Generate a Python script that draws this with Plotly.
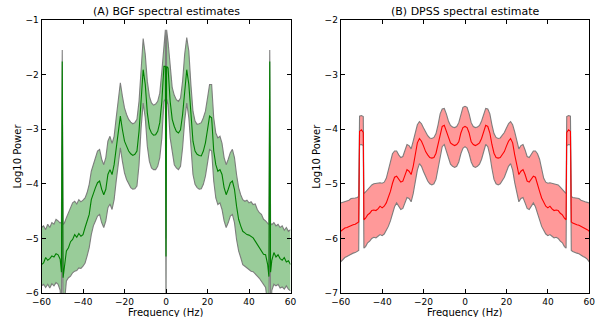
import plotly.graph_objects as go

# ---------------- data: (A) BGF spectral estimates ----------------
bgf_freq = [-60, -59, -58, -57, -56, -55, -54, -53, -52, -51, -50.4, -50, -49.6, -49,
            -48, -47, -46, -45, -44, -43, -42, -41, -40, -39, -38, -37, -36, -35, -34,
            -33, -32, -31, -30, -29, -28, -27, -26, -25, -24, -23, -22, -21, -20, -19,
            -18, -17, -16, -15, -14, -13, -12, -11, -10, -9, -8, -7, -6, -5, -4, -3,
            -2, -1, -0.3, 0, 0.3, 1, 2, 3, 4, 5, 6, 7, 8, 9, 10, 11, 12, 13, 14, 15,
            16, 17, 18, 19, 20, 21, 22, 23, 24, 25, 26, 27, 28, 29, 30, 31, 32, 33,
            34, 35, 36, 37, 38, 39, 40, 41, 42, 43, 44, 45, 46, 47, 48, 49, 49.6, 50,
            50.4, 51, 52, 53, 54, 55, 56, 57, 58, 59, 60]
bgf_upper = [-4.80, -4.77, -4.84, -4.74, -4.80, -4.71, -4.74, -4.65, -4.68, -4.72, -4.70, -1.55, -4.75, -4.72,
             -4.62, -4.53, -4.44, -4.35, -4.32, -4.37, -4.29, -4.33, -4.30, -4.26, -4.16, -4.01, -3.77, -3.65, -3.52,
             -3.40, -3.37, -3.55, -3.65, -3.52, -3.22, -3.13, -3.26, -3.13, -2.79, -2.43, -2.15, -2.40, -2.61, -2.73,
             -2.82, -2.87, -2.90, -2.88, -2.82, -2.49, -1.82, -1.34, -1.63, -2.12, -2.40, -2.52, -2.56, -2.54, -2.49, -2.34,
             -1.94, -1.40, -1.18, -5.00, -1.18, -1.40, -1.88, -2.24, -2.38, -2.46, -2.49, -2.43, -2.12, -1.63, -1.32, -1.57, -2.18, -2.67, -2.85, -2.91,
             -2.90, -2.88, -2.79, -2.67, -2.43, -2.18, -2.18, -2.79, -3.07, -3.16, -3.13, -3.26, -3.52, -3.65, -3.55, -3.43, -3.37, -3.52,
             -3.83, -4.07, -4.20, -4.29, -4.32, -4.30, -4.35, -4.33, -4.38, -4.37, -4.47, -4.53, -4.56, -4.65, -4.68, -4.72, -4.75, -1.55,
             -4.72, -4.75, -4.71, -4.77, -4.74, -4.80, -4.77, -4.85, -4.80, -4.87, -4.84]
bgf_mean = [-5.48, -5.45, -5.35, -5.40, -5.37, -5.32, -5.34, -5.28, -5.30, -5.38, -5.62, -1.76, -5.72, -5.50,
            -5.23, -5.17, -5.06, -5.02, -4.93, -4.98, -4.91, -4.96, -4.93, -4.80, -4.68, -4.56, -4.29, -4.16, -4.07,
            -3.98, -3.95, -4.10, -4.20, -4.10, -3.83, -3.74, -3.83, -3.65, -3.34, -3.01, -2.76, -3.01, -3.22, -3.31,
            -3.40, -3.45, -3.48, -3.46, -3.40, -3.04, -2.37, -1.91, -2.18, -2.70, -2.98, -3.07, -3.11, -3.10, -3.04, -2.88,
            -2.49, -1.85, -1.85, -5.33, -1.85, -1.88, -2.49, -2.82, -2.95, -3.04, -3.07, -3.01, -2.73, -2.24, -1.91, -2.18, -2.79, -3.22, -3.40, -3.46,
            -3.48, -3.49, -3.40, -3.25, -3.01, -2.76, -2.79, -3.40, -3.65, -3.77, -3.74, -3.83, -4.07, -4.20, -4.10, -3.98, -3.95, -4.10,
            -4.41, -4.65, -4.77, -4.87, -4.90, -4.93, -4.94, -4.96, -4.99, -5.05, -5.11, -5.17, -5.23, -5.29, -5.30, -5.48, -5.70, -1.76,
            -5.62, -5.40, -5.26, -5.34, -5.30, -5.37, -5.40, -5.35, -5.43, -5.41, -5.48]
bgf_lower = [-5.87, -5.84, -5.90, -5.84, -5.91, -5.83, -5.87, -5.81, -5.84, -5.95, -6.60, -3.30, -6.60, -6.20,
             -5.78, -5.72, -5.69, -5.63, -5.60, -5.59, -5.54, -5.55, -5.51, -5.45, -5.32, -5.17, -4.93, -4.77, -4.68,
             -4.59, -4.56, -4.71, -4.80, -4.68, -4.44, -4.37, -4.47, -4.29, -3.95, -3.59, -3.34, -3.59, -3.80, -3.92,
             -4.01, -4.07, -4.10, -4.09, -4.04, -3.65, -2.98, -2.52, -2.79, -3.31, -3.59, -3.71, -3.74, -3.74, -3.68, -3.52,
             -3.16, -2.49, -2.45, -6.60, -2.45, -2.55, -3.16, -3.46, -3.65, -3.71, -3.74, -3.68, -3.34, -2.85, -2.52, -2.79, -3.40, -3.83, -4.01, -4.07,
             -4.10, -4.09, -4.01, -3.86, -3.62, -3.37, -3.40, -3.95, -4.26, -4.38, -4.35, -4.47, -4.68, -4.80, -4.71, -4.59, -4.56, -4.71,
             -5.02, -5.23, -5.35, -5.48, -5.51, -5.54, -5.57, -5.60, -5.61, -5.66, -5.69, -5.73, -5.78, -5.84, -5.90, -6.20, -6.60, -3.30,
             -6.60, -5.95, -5.84, -5.87, -5.84, -5.91, -5.89, -5.93, -5.87, -5.93, -5.96]

# ---------------- data: (B) DPSS spectral estimate ----------------
dpss_freq = [-60, -59, -58, -57, -56, -55, -54, -53, -52, -51.3, -50.9, -50, -49.1, -48.8,
             -48, -47, -46, -45, -44, -43, -42, -41, -40, -39, -38, -37, -36, -35, -34,
             -33, -32, -31, -30, -29, -28, -27, -26, -25, -24, -23, -22, -21, -20, -19,
             -18, -17, -16, -15, -14, -13, -12, -11, -10, -9, -8, -7, -6, -5, -4, -3,
             -2, -1, 0, 1, 2, 3, 4, 5, 6, 7, 8, 9, 10, 11, 12, 13, 14, 15,
             16, 17, 18, 19, 20, 21, 22, 23, 24, 25, 26, 27, 28, 29, 30, 31, 32, 33,
             34, 35, 36, 37, 38, 39, 40, 41, 42, 43, 44, 45, 46, 47, 48, 48.8, 49.1, 50,
             50.9, 51.3, 52, 53, 54, 55, 56, 57, 58, 59, 60]
dpss_upper = [-5.35, -5.34, -5.33, -5.32, -5.30, -5.27, -5.27, -5.26, -5.25, -5.23, -3.76, -3.75, -3.77, -5.18,
              -5.15, -5.10, -5.06, -5.02, -5.00, -4.99, -4.99, -4.98, -4.99, -4.97, -4.90, -4.75, -4.55, -4.45, -4.40,
              -4.40, -4.47, -4.52, -4.50, -4.38, -4.28, -4.30, -4.36, -4.22, -4.05, -3.92, -3.86, -3.90, -3.98, -4.06,
              -4.12, -4.16, -4.17, -4.15, -4.08, -3.92, -3.72, -3.63, -3.62, -3.72, -3.85, -3.93, -3.96, -3.97, -3.95, -3.88,
              -3.72, -3.60, -3.58, -3.60, -3.72, -3.88, -3.95, -3.97, -3.96, -3.93, -3.85, -3.72, -3.62, -3.63, -3.72, -3.92, -4.08, -4.15,
              -4.17, -4.16, -4.12, -4.06, -3.98, -3.90, -3.86, -3.92, -4.05, -4.22, -4.36, -4.30, -4.28, -4.38, -4.50, -4.52, -4.47, -4.40,
              -4.40, -4.45, -4.55, -4.75, -4.90, -4.97, -4.99, -4.98, -4.99, -4.99, -5.00, -5.02, -5.06, -5.10, -5.15, -5.18, -3.77, -3.75,
              -3.76, -5.23, -5.25, -5.26, -5.27, -5.27, -5.30, -5.32, -5.33, -5.34, -5.35]
dpss_mean = [-5.87, -5.84, -5.81, -5.80, -5.78, -5.76, -5.75, -5.74, -5.72, -5.70, -4.04, -4.01, -4.06, -5.66,
             -5.63, -5.57, -5.54, -5.49, -5.48, -5.49, -5.46, -5.41, -5.44, -5.41, -5.35, -5.26, -5.14, -4.99, -4.88,
             -4.86, -4.92, -4.97, -4.95, -4.83, -4.74, -4.77, -4.83, -4.68, -4.47, -4.25, -4.17, -4.22, -4.31, -4.41,
             -4.47, -4.52, -4.53, -4.52, -4.44, -4.28, -4.07, -3.95, -3.93, -4.04, -4.17, -4.25, -4.28, -4.30, -4.28, -4.23,
             -4.07, -3.97, -3.95, -3.97, -4.07, -4.23, -4.28, -4.30, -4.28, -4.25, -4.17, -4.04, -3.93, -3.95, -4.07, -4.28, -4.44, -4.52,
             -4.53, -4.52, -4.47, -4.41, -4.31, -4.22, -4.17, -4.25, -4.47, -4.68, -4.83, -4.77, -4.74, -4.83, -4.95, -4.97, -4.92, -4.86,
             -4.88, -4.99, -5.14, -5.26, -5.35, -5.41, -5.44, -5.41, -5.46, -5.49, -5.48, -5.49, -5.54, -5.57, -5.63, -5.66, -4.06, -4.01,
             -4.04, -5.70, -5.72, -5.74, -5.75, -5.76, -5.78, -5.80, -5.81, -5.84, -5.87]
dpss_lower = [-6.43, -6.38, -6.35, -6.33, -6.31, -6.28, -6.27, -6.26, -6.24, -6.22, -4.29, -4.28, -4.30, -6.18,
              -6.15, -6.08, -6.05, -6.00, -5.98, -5.99, -5.96, -5.93, -5.95, -5.92, -5.85, -5.78, -5.68, -5.55, -5.42,
              -5.35, -5.40, -5.47, -5.45, -5.35, -5.25, -5.27, -5.33, -5.18, -4.98, -4.75, -4.63, -4.68, -4.78, -4.88,
              -4.95, -5.00, -5.02, -5.00, -4.92, -4.72, -4.48, -4.32, -4.28, -4.40, -4.55, -4.64, -4.68, -4.70, -4.68, -4.60,
              -4.45, -4.35, -4.32, -4.35, -4.45, -4.60, -4.68, -4.70, -4.68, -4.64, -4.55, -4.40, -4.28, -4.32, -4.48, -4.72, -4.92, -5.00,
              -5.02, -5.00, -4.95, -4.88, -4.78, -4.68, -4.63, -4.75, -4.98, -5.18, -5.33, -5.27, -5.25, -5.35, -5.45, -5.47, -5.40, -5.35,
              -5.42, -5.55, -5.68, -5.78, -5.85, -5.92, -5.95, -5.93, -5.96, -5.99, -5.98, -6.00, -6.05, -6.08, -6.15, -6.18, -4.30, -4.28,
              -4.29, -6.22, -6.24, -6.26, -6.27, -6.28, -6.31, -6.33, -6.35, -6.38, -6.43]

x_ticks = [-60, -40, -20, 0, 20, 40, 60]
titles = ["(A) BGF spectral estimates", "(B) DPSS spectral estimate"]
x_label = "Frequency (Hz)"
y_label = "Log10 Power"

FONT = "DejaVu Sans"
W, H = 597, 317
EDGE = "rgba(120,120,120,0.95)"

fig = go.Figure()


def add_panel(freq, lower, upper, mean, fillcolor, linecolor, xa, ya):
    fig.add_trace(go.Scatter(x=freq, y=lower, mode="lines", xaxis=xa, yaxis=ya,
                             line=dict(color=EDGE, width=1.1), showlegend=False, hoverinfo="skip"))
    fig.add_trace(go.Scatter(x=freq, y=upper, mode="lines", xaxis=xa, yaxis=ya, fill="tonexty",
                             fillcolor=fillcolor, line=dict(color=EDGE, width=1.1),
                             showlegend=False, hoverinfo="skip"))
    fig.add_trace(go.Scatter(x=freq, y=mean, mode="lines", xaxis=xa, yaxis=ya,
                             line=dict(color=linecolor, width=1.1), showlegend=False))


add_panel(bgf_freq, bgf_lower, bgf_upper, bgf_mean, "rgb(153,204,153)", "#008000", "x", "y")
add_panel(dpss_freq, dpss_lower, dpss_upper, dpss_mean, "rgb(255,153,153)", "#ff0000", "x2", "y2")

left_px = [41.5, 290.5]
right_px = [340.7, 589.3]
top_px, bot_px = 20, 293
left_dom = [left_px[0] / W, left_px[1] / W]
right_dom = [right_px[0] / W, right_px[1] / W]
y_dom = [1 - bot_px / H, 1 - top_px / H]

common_ax = dict(showline=True, linecolor="black", linewidth=1, mirror="ticks", ticks="inside",
                 ticklen=4, tickwidth=1, tickcolor="black", showgrid=False, zeroline=False,
                 automargin=False, tickfont=dict(family=FONT, size=9, color="black"))

fig.update_layout(
    width=W, height=H,
    margin=dict(l=0, r=0, t=0, b=0, autoexpand=False),
    paper_bgcolor="white", plot_bgcolor="white",
    font=dict(family=FONT, color="black"),
    xaxis=dict(domain=left_dom, anchor="y", range=[-60, 60], tickvals=x_ticks, **common_ax),
    yaxis=dict(domain=y_dom, anchor="x", range=[-6, -1], dtick=1, tick0=-6, **common_ax),
    xaxis2=dict(domain=right_dom, anchor="y2", range=[-60, 60], tickvals=x_ticks, **common_ax),
    yaxis2=dict(domain=y_dom, anchor="x2", range=[-7, -2], dtick=1, tick0=-7, **common_ax),
)

for dom, px, t in zip([left_dom, right_dom], [left_px, right_px], titles):
    cx = (dom[0] + dom[1]) / 2
    fig.add_annotation(x=cx, y=1 - 11.5 / H, xref="paper", yref="paper", text=t, showarrow=False,
                       xanchor="center", yanchor="middle", font=dict(family=FONT, size=11, color="black"))
    fig.add_annotation(x=cx, y=1 - 312.5 / H, xref="paper", yref="paper", text=x_label, showarrow=False,
                       xanchor="center", yanchor="middle", font=dict(family=FONT, size=10, color="black"))
    fig.add_annotation(x=(px[0] - 25) / W, y=1 - 156 / H, xref="paper", yref="paper", text=y_label,
                       showarrow=False, textangle=-90, xanchor="center", yanchor="middle",
                       font=dict(family=FONT, size=10, color="black"))

fig.write_html("out.html", config={"displayModeBar": False},
               post_script="document.body.style.margin='0';document.body.style.overflow='hidden';")
